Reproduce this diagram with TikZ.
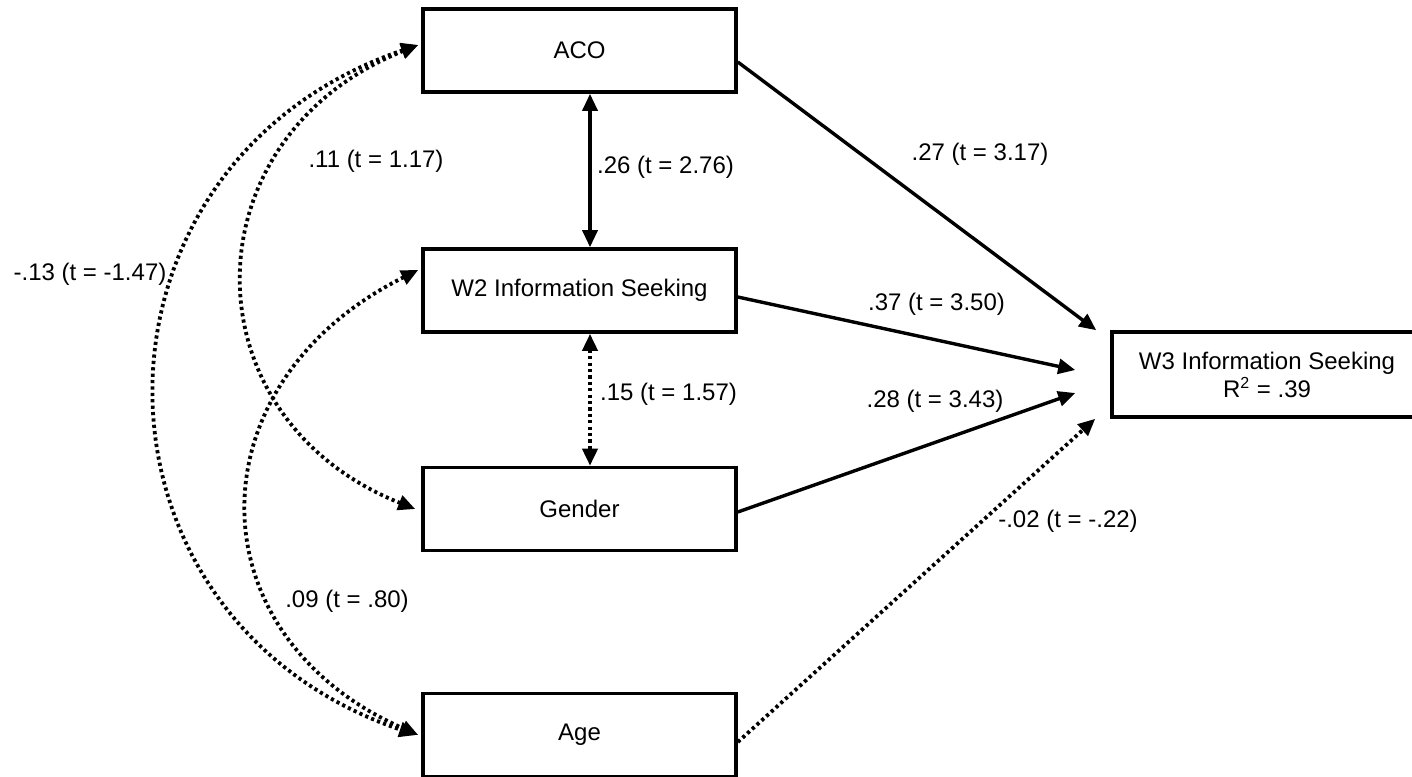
\documentclass[tikz,border=0pt]{standalone}
\usepackage{fontspec}
\setmainfont{Liberation Sans}
\usetikzlibrary{arrows.meta}
\begin{document}
\begin{tikzpicture}[x=0.5pt,y=-0.5pt, font=\fontsize{12}{14}\selectfont,
  >={Triangle[length=8.5pt,width=7.5pt]},
  box/.style={draw, line width=1.8pt, minimum width=156.5pt, minimum height=41.5pt, inner sep=0pt, align=center},
  solidln/.style={line width=1.7pt},
  dotln/.style={line width=1.9pt, dash pattern=on 1.6pt off 1.6pt},
  lbl/.style={inner sep=0pt}]
\useasboundingbox (0,0) rectangle (1412,776);

% boxes
\node[box] (aco) at (579.5,50.5) {ACO};
\node[box] (w2) at (579.5,290.5) {W2 Information Seeking};
\node[box] (gen) at (579.5,509) {Gender};
\node[box] (age) at (579.5,735) {Age};
\node[box, minimum width=155pt, minimum height=42.5pt] (w3) at (1267,374.5) {W3 Information Seeking\\R\textsuperscript{2} = .39};

% vertical correlations
\draw[solidln,<->] ([xshift=5.25pt]aco.south) -- ([xshift=5.25pt]w2.north);
\draw[dotln,<->] ([xshift=5.25pt]w2.south) -- ([xshift=5.25pt]gen.north);

% paths to W3
\draw[solidln,->] ([yshift=-5.75pt]aco.east) -- ([xshift=-7pt]w3.north west);
\draw[solidln,->] ([yshift=-3.25pt]w2.east) -- ([xshift=-17.5pt,yshift=2.25pt]w3.west);
\draw[solidln,->] ([yshift=-1.5pt]gen.east) -- ([xshift=-17.5pt,yshift=-9.25pt]w3.west);
\draw[dotln,->] ([yshift=-3.5pt]age.east) -- ([xshift=-7.5pt]w3.south west);

% left curved correlations
\draw[dotln,<->] ([xshift=-1.5pt,yshift=2.75pt]aco.west) .. controls +(-348,118) and +(-348,-118) .. ([xshift=-2.5pt]age.west);
\draw[dotln,<->] ([xshift=-1.5pt,yshift=2.75pt]aco.west) .. controls +(-231,92) and +(-231,-92) .. ([xshift=-3pt]gen.west);
\draw[dotln,<->] ([xshift=-1.5pt,yshift=10.25pt]w2.west) .. controls +(-227,113) and +(-227,-100) .. ([xshift=-1.5pt]age.west);

% labels
\node[lbl] (l1) at (376,161) {.11 (t = 1.17)};
\node[lbl] (l2) at (90,274) {-.13 (t = -1.47)};
\node[lbl] (l3) at (347,601) {.09 (t = .80)};
\node[lbl] (l4) at (665.5,167) {.26 (t = 2.76)};
\node[lbl] (l5) at (668.5,394) {.15 (t = 1.57)};
\node[lbl] (l6) at (980,154) {.27 (t = 3.17)};
\node[lbl] (l7) at (936.5,304) {.37 (t = 3.50)};
\node[lbl] (l8) at (935,401) {.28 (t = 3.43)};
\node[lbl] (l9) at (1068,521) {-.02 (t = -.22)};
\end{tikzpicture}
\end{document}
